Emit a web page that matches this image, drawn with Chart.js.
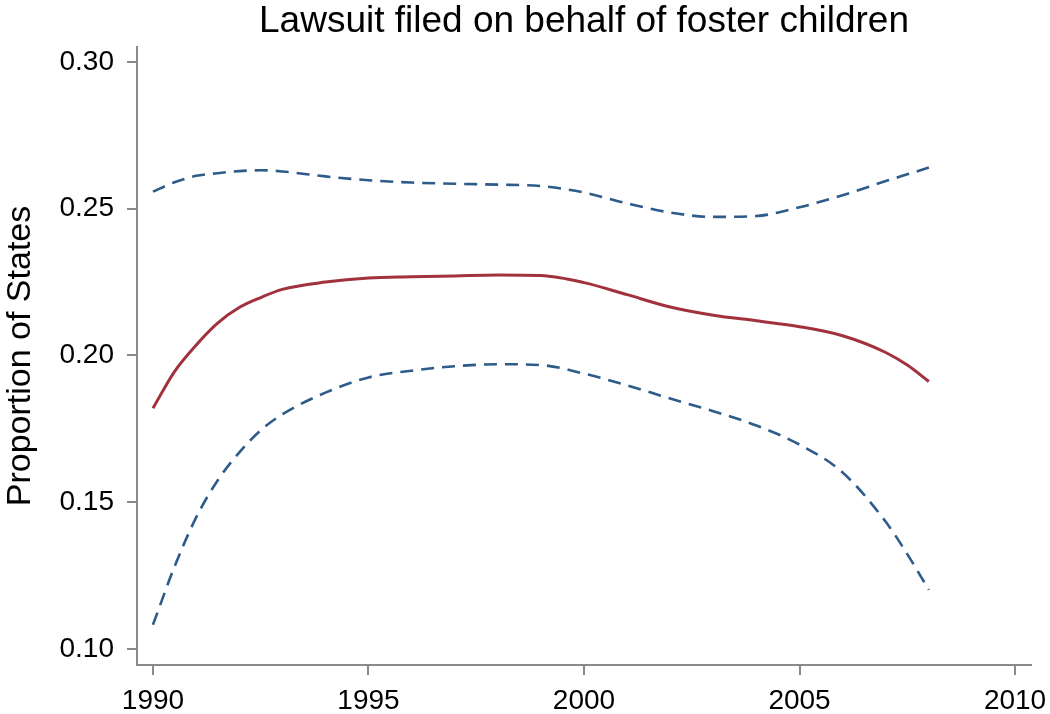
<!DOCTYPE html>
<html>
<head>
<meta charset="utf-8">
<title>Lawsuit filed on behalf of foster children</title>
<script src="https://cdn.jsdelivr.net/npm/chart.js@4.4.1/dist/chart.umd.min.js"></script>
<style>
  html, body { margin: 0; padding: 0; background: #fff; }
  #wrap { width: 1050px; height: 714px; }
</style>
</head>
<body>
<div id="wrap"><canvas id="lawsuitChart" width="1050" height="714"></canvas></div>
<script>
// values
const years = [1990, 1990.5, 1991, 1991.5, 1992, 1992.5, 1993, 1994, 1995, 1996, 1997,
  1998, 1999, 2000, 2001, 2002, 2003, 2004, 2005, 2006, 2007, 2007.5, 2008];
const fitted = [0.182, 0.1945, 0.2035, 0.211, 0.2163, 0.2197, 0.2225, 0.2250, 0.2264, 0.2268, 0.2271,
  0.2274, 0.2272, 0.2248, 0.2207, 0.2165, 0.2137, 0.2118, 0.2098, 0.2067, 0.2010, 0.1967, 0.1911];
const upperBand = [0.2558, 0.2590, 0.2612, 0.2621, 0.2628, 0.2631, 0.2627, 0.2610, 0.2597, 0.2589, 0.2585,
  0.2582, 0.2577, 0.2555, 0.2518, 0.2487, 0.2472, 0.2475, 0.2505, 0.2546, 0.2594, 0.2617, 0.2640];
const lowerBand = [0.1082, 0.1280, 0.1447, 0.1574, 0.1669, 0.1745, 0.1799, 0.1873, 0.1925, 0.1948, 0.1963,
  0.1970, 0.1967, 0.1938, 0.1898, 0.1853, 0.1810, 0.1761, 0.1696, 0.1601, 0.1433, 0.1323, 0.1201];
const xTicks = [1990, 1995, 2000, 2005, 2010];
const yTicks = [0.10, 0.15, 0.20, 0.25, 0.30];

const FONT = "'Liberation Sans', Arial, Helvetica, sans-serif";
const AXIS_GREY = "#8a8a8a";
const RED = "#a1323d";
const BLUE = "#2d5b8a";

function toPoints(values) {
  return years.map((yr, i) => ({ x: yr, y: values[i] }));
}

function lineSet(label, values, color, dashed) {
  return {
    label,
    data: toPoints(values),
    borderColor: color,
    backgroundColor: color,
    borderWidth: dashed ? 2.6 : 3,
    borderDash: dashed ? [13, 8] : [],
    pointRadius: 0,
    cubicInterpolationMode: "monotone",
    fill: false
  };
}

const ctx = document.getElementById("lawsuitChart").getContext("2d");

new Chart(ctx, {
  type: "line",
  data: {
    datasets: [
      lineSet("Upper bound", upperBand, BLUE, true),
      lineSet("Lower bound", lowerBand, BLUE, true),
      lineSet("Fitted", fitted, RED, false)
    ]
  },
  options: {
    responsive: false,
    animation: false,
    layout: { padding: { left: 0, right: 19, top: 0, bottom: 0 } },
    plugins: {
      legend: { display: false },
      tooltip: { enabled: false },
      title: {
        display: true,
        fullSize: false,
        text: "Lawsuit filed on behalf of foster children",
        color: "#000",
        font: { family: FONT, size: 37, weight: "normal", lineHeight: 1.2 },
        padding: { top: 0, bottom: 2.6 }
      }
    },
    scales: {
      x: {
        type: "linear",
        min: 1989.63,
        max: 2010.37,
        afterBuildTicks: (scale) => { scale.ticks = xTicks.map((v) => ({ value: v })); },
        afterFit: (scale) => {
          scale.height = 49;
          scale.paddingLeft = 0;
          scale.paddingRight = 0;
        },
        border: { display: true, color: AXIS_GREY, width: 2 },
        grid: { drawOnChartArea: false, drawTicks: true, tickLength: 10, color: AXIS_GREY, lineWidth: 2 },
        ticks: {
          color: "#000",
          padding: 9,
          maxRotation: 0,
          font: { family: FONT, size: 28 },
          callback: (v) => String(v)
        }
      },
      y: {
        type: "linear",
        min: 0.0945,
        max: 0.3051,
        afterBuildTicks: (scale) => { scale.ticks = yTicks.map((v) => ({ value: v })); },
        afterFit: (scale) => { scale.width = 137; },
        border: { display: true, color: AXIS_GREY, width: 2 },
        grid: { drawOnChartArea: false, drawTicks: true, tickLength: 10, color: AXIS_GREY, lineWidth: 2 },
        title: {
          display: true,
          text: "Proportion of States",
          color: "#000",
          font: { family: FONT, size: 34 },
          padding: { top: 0, bottom: 0 }
        },
        ticks: {
          color: "#000",
          padding: 13,
          font: { family: FONT, size: 28 },
          callback: (v) => Number(v).toFixed(2)
        }
      }
    }
  }
});
</script>
</body>
</html>
